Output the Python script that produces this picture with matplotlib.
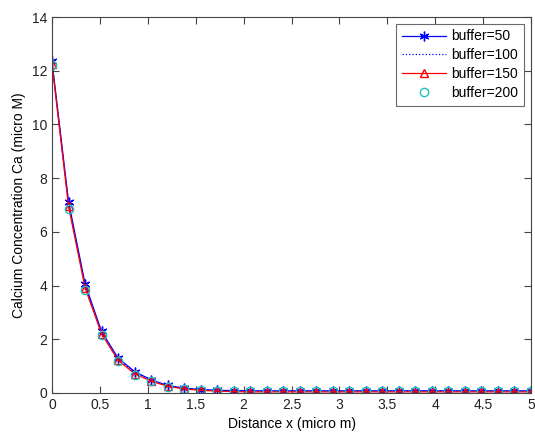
import numpy as np
import matplotlib
matplotlib.use("Agg")
import matplotlib.pyplot as plt

plt.rcParams['font.family'] = ['Liberation Sans', 'DejaVu Sans']

# distance samples (30 points from 0 to 5)
x = np.linspace(0, 5, 30)

tail = 18
buffer50 = [12.35, 7.13, 4.07, 2.29, 1.30, 0.80, 0.49, 0.28, 0.18, 0.13, 0.10, 0.09] + [0.08] * tail
buffer100 = [12.3, 7.05, 4.0, 2.25, 1.27, 0.77, 0.47, 0.27, 0.17, 0.12, 0.09, 0.08] + [0.07] * tail
buffer150 = [12.25, 6.95, 3.92, 2.2, 1.22, 0.72, 0.44, 0.25, 0.15, 0.10, 0.07, 0.05] + [0.04] * tail
buffer200 = [12.2, 6.85, 3.82, 2.17, 1.18, 0.68, 0.43, 0.24, 0.14, 0.10, 0.08, 0.07] + [0.06] * tail

fig = plt.figure(figsize=(5.35, 4.34), dpi=100)
ax = fig.add_axes([52 / 535, 1 - 393 / 434, 479 / 535, 376 / 434])

ax.plot(x, buffer50, color='blue', linestyle='-', marker=(6, 2, 0), markersize=7, linewidth=0.9, label='buffer=50')
ax.plot(x, buffer100, color='blue', linestyle=':', linewidth=0.9, label='buffer=100')
ax.plot(x, buffer150, color='red', linestyle='-', marker='^', markersize=6, markerfacecolor='none', linewidth=0.9, label='buffer=150')
ax.plot(x, buffer200, color='#20c0c0', linestyle='none', marker='o', markersize=6, markerfacecolor='none', label='buffer=200')

ax.set_xlim(0, 5)
ax.set_ylim(0, 14)
ax.set_xticks(np.arange(0, 5.01, 0.5))
ax.set_xticklabels(['0', '0.5', '1', '1.5', '2', '2.5', '3', '3.5', '4', '4.5', '5'])
ax.set_yticks(np.arange(0, 15, 2))
ax.tick_params(direction='in', top=True, right=True, labelsize=10, length=5, color='#444444', labelcolor='#222222')
for s in ax.spines.values():
    s.set_color('#444444')

ax.set_xlabel('Distance x (micro m)', fontsize=10, labelpad=4)
ax.set_ylabel('Calcium Concentration Ca (micro M)', fontsize=10, labelpad=4)

leg = ax.legend(loc='upper right', fontsize=10, fancybox=False, edgecolor='#444444',
                handlelength=3.2, borderaxespad=0.5, labelspacing=0.35, handletextpad=0.4)
leg.get_frame().set_linewidth(0.8)

fig.savefig('out.png', dpi=100)
